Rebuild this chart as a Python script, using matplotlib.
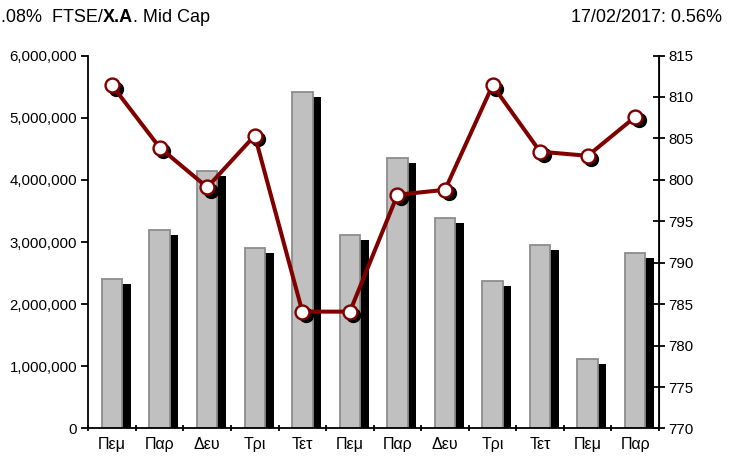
import numpy as np
import matplotlib
matplotlib.use('Agg')
import matplotlib.pyplot as plt
import matplotlib.transforms as mtransforms
from matplotlib.ticker import FuncFormatter, MultipleLocator

# daily data
days = ['Πεμ', 'Παρ', 'Δευ', 'Τρι', 'Τετ', 'Πεμ', 'Παρ', 'Δευ', 'Τρι', 'Τετ', 'Πεμ', 'Παρ']
volume = [2400000, 3200000, 4140000, 2910000, 5410000, 3110000,
          4350000, 3390000, 2370000, 2950000, 1120000, 2820000]
close = [811.4, 803.9, 799.1, 805.35, 784.1, 784.1,
         798.2, 798.8, 811.4, 803.4, 802.9, 807.6]

title_left = ['.08%  FTSE/', 'X.A', '. Mid Cap']
title_right = '17/02/2017: 0.56%'

plt.rcParams['font.family'] = ['Liberation Sans', 'DejaVu Sans']
narrow = ['Liberation Sans Narrow', 'Liberation Sans', 'DejaVu Sans']

fig = plt.figure(figsize=(7.39, 4.65), dpi=100)
ax = fig.add_axes([0.1195, 0.0785, 0.7723, 0.8021])
x = np.arange(len(days))

# bars with a black "shadow" behind them
ax.bar(x + 0.18, np.array(volume) - 80000, width=0.43, color='black', zorder=1)
ax.bar(x, volume, width=0.43, color='#c0c0c0', edgecolor='#8c8c8c', linewidth=1.3, zorder=2)

ax.set_xlim(-0.5, len(days) - 0.5)
ax.set_ylim(0, 6000000)
ax.yaxis.set_major_locator(MultipleLocator(1000000))
ax.yaxis.set_major_formatter(FuncFormatter(lambda v, p: '{:,.0f}'.format(v)))
ax.set_xticks(x)
ax.set_xticklabels(days)
ax.set_xticks(np.arange(-0.5, len(days)), minor=True)
ax.tick_params(axis='x', which='major', length=0, labelsize=11.5, pad=6)
ax.tick_params(axis='x', which='minor', length=5, width=1.3, direction='inout')
ax.tick_params(axis='y', length=5, width=1.3, direction='out', labelsize=10.8, pad=3)
ax.spines['top'].set_visible(False)
for s in ['left', 'bottom']:
    ax.spines[s].set_linewidth(1.3)

# index line on the right axis
ax2 = ax.twinx()
ax2.set_ylim(770, 815)
ax2.yaxis.set_major_locator(MultipleLocator(5))
shadow = mtransforms.offset_copy(ax2.transData, fig=fig, x=3.5, y=-3.5, units='dots')
ax2.plot(x, close, 'o', ms=10, color='black', mec='black', transform=shadow, zorder=3)
ax2.plot(x, close, '-', color='#800000', lw=2.9, zorder=4)
ax2.plot(x, close, 'o', ms=10, mfc='white', mec='#800000', mew=1.7, zorder=5)
ax2.tick_params(axis='y', length=9, width=1.3, direction='inout', labelsize=10.8, pad=2)
ax2.spines['top'].set_visible(False)
ax2.spines['right'].set_linewidth(1.3)
ax2.spines['left'].set_visible(False)
ax2.spines['bottom'].set_visible(False)

# header texts
t1 = fig.text(0.001, 0.963, title_left[0], fontsize=13, family=narrow, va='center', ha='left')
t2 = ax.annotate(title_left[1], xy=(1, 0), xycoords=t1, fontsize=13, family=narrow,
                 weight='bold', va='bottom', ha='left', annotation_clip=False)
ax.annotate(title_left[2], xy=(1, 0), xycoords=t2, fontsize=13, family=narrow,
            va='bottom', ha='left', annotation_clip=False)
fig.text(0.977, 0.963, title_right, fontsize=13, family=narrow, va='center', ha='right')

fig.savefig('out.png', dpi=100)
